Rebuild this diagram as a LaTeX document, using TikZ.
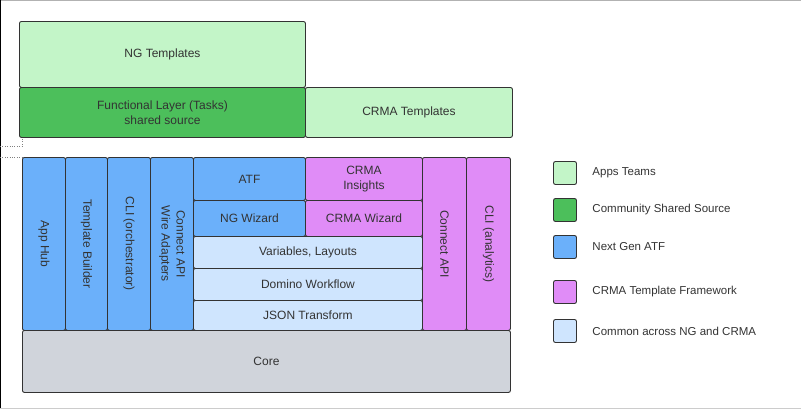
\documentclass[tikz,border=0pt]{standalone}
\usepackage{fontspec}
\setmainfont{Liberation Sans}
\definecolor{appsteam}{HTML}{C3F5C8}
\definecolor{shared}{HTML}{4CBF5B}
\definecolor{nextgen}{HTML}{6BB0FA}
\definecolor{crma}{HTML}{E08CF7}
\definecolor{common}{HTML}{CFE5FE}
\definecolor{core}{HTML}{D0D4DB}
\definecolor{ink}{HTML}{333333}

\tikzset{
  blk/.style={draw=ink, line width=0.9pt, rounded corners=2pt, anchor=north west,
    inner sep=0pt, align=center, text=ink, font=\fontsize{12}{15}\selectfont},
  vblk/.style={blk, rotate=-90, anchor=south west},
  key/.style={draw=ink, line width=0.9pt, rounded corners=2pt, minimum size=23pt, inner sep=0pt},
  keytxt/.style={anchor=west, text=ink, font=\fontsize{11.5}{13}\selectfont}
}

\begin{document}
\begin{tikzpicture}[x=1pt, y=-1pt]
            \useasboundingbox (0,0) rectangle (801,408);
            \draw[gray!60, line width=1.5pt] (0,0) -- (801,0);
            \draw[black, line width=1.5pt] (0,0) -- (0,408);
            \draw[gray!40] (0,408) -- (801,408) -- (801,0);

            % templates row
            \node[blk, fill=appsteam, minimum width=286pt, minimum height=66pt] (ngtpl) at (19,21) {NG Templates};
            \node[blk, fill=shared, minimum width=286pt, minimum height=50pt] (func) at (19,87) {Functional Layer (Tasks)\\shared source};
            \node[blk, fill=appsteam, minimum width=207pt, minimum height=50pt] (crmatpl) at (305,87) {CRMA Templates};

            \draw[gray, dotted] (0,146) -- (22,146) -- (22,137);
            \draw[gray, dotted] (0,157) -- (22,157);

            % vertical columns
            \node[vblk, fill=nextgen, minimum width=173pt, minimum height=43pt] (apphub) at (22,157) {App Hub};
            \node[vblk, fill=nextgen, minimum width=173pt, minimum height=42pt] (tplbuild) at (65,157) {Template Builder};
            \node[vblk, fill=nextgen, minimum width=173pt, minimum height=43pt] (cliorch) at (107,157) {CLI (orchestrator)};
            \node[vblk, fill=nextgen, minimum width=173pt, minimum height=43pt] (wire) at (150,157) {Connect API\\Wire Adapters};

            % middle stack
            \node[blk, fill=nextgen, minimum width=112pt, minimum height=43pt] (atf) at (193,157) {ATF};
            \node[blk, fill=nextgen, minimum width=112pt, minimum height=36pt] (ngwiz) at (193,200) {NG Wizard};
            \node[blk, fill=crma, minimum width=117pt, minimum height=43pt] (insights) at (305,157) {CRMA\\Insights};
            \node[blk, fill=crma, minimum width=117pt, minimum height=36pt] (crmawiz) at (305,200) {CRMA Wizard};
            \node[blk, fill=common, minimum width=229pt, minimum height=32pt] (vars) at (193,236) {Variables, Layouts};
            \node[blk, fill=common, minimum width=229pt, minimum height=32pt] (domino) at (193,268) {Domino Workflow};
            \node[blk, fill=common, minimum width=229pt, minimum height=30pt] (json) at (193,300) {JSON Transform};

            \node[vblk, fill=crma, minimum width=173pt, minimum height=44pt] (connapi) at (422,157) {Connect API};
            \node[vblk, fill=crma, minimum width=173pt, minimum height=44pt] (clian) at (466,157) {CLI (analytics)};

            \node[blk, fill=core, minimum width=488pt, minimum height=62pt] (core) at (22,330) {Core};

            % legend
            \node[key, fill=appsteam] (k1) at (565,173) {};
            \node[key, fill=shared] (k2) at (565,210) {};
            \node[key, fill=nextgen] (k3) at (565,247) {};
            \node[key, fill=crma] (k4) at (565,292) {};
            \node[key, fill=common] (k5) at (565,331) {};
            \node[keytxt] (t1) at ([xshift=12pt]k1.east) {Apps Teams};
            \node[keytxt] (t2) at ([xshift=12pt]k2.east) {Community Shared Source};
            \node[keytxt] (t3) at ([xshift=12pt]k3.east) {Next Gen ATF};
            \node[keytxt] (t4) at ([xshift=12pt]k4.east) {CRMA Template Framework};
            \node[keytxt] (t5) at ([xshift=12pt]k5.east) {Common across NG and CRMA};
        \end{tikzpicture}
\end{document}
